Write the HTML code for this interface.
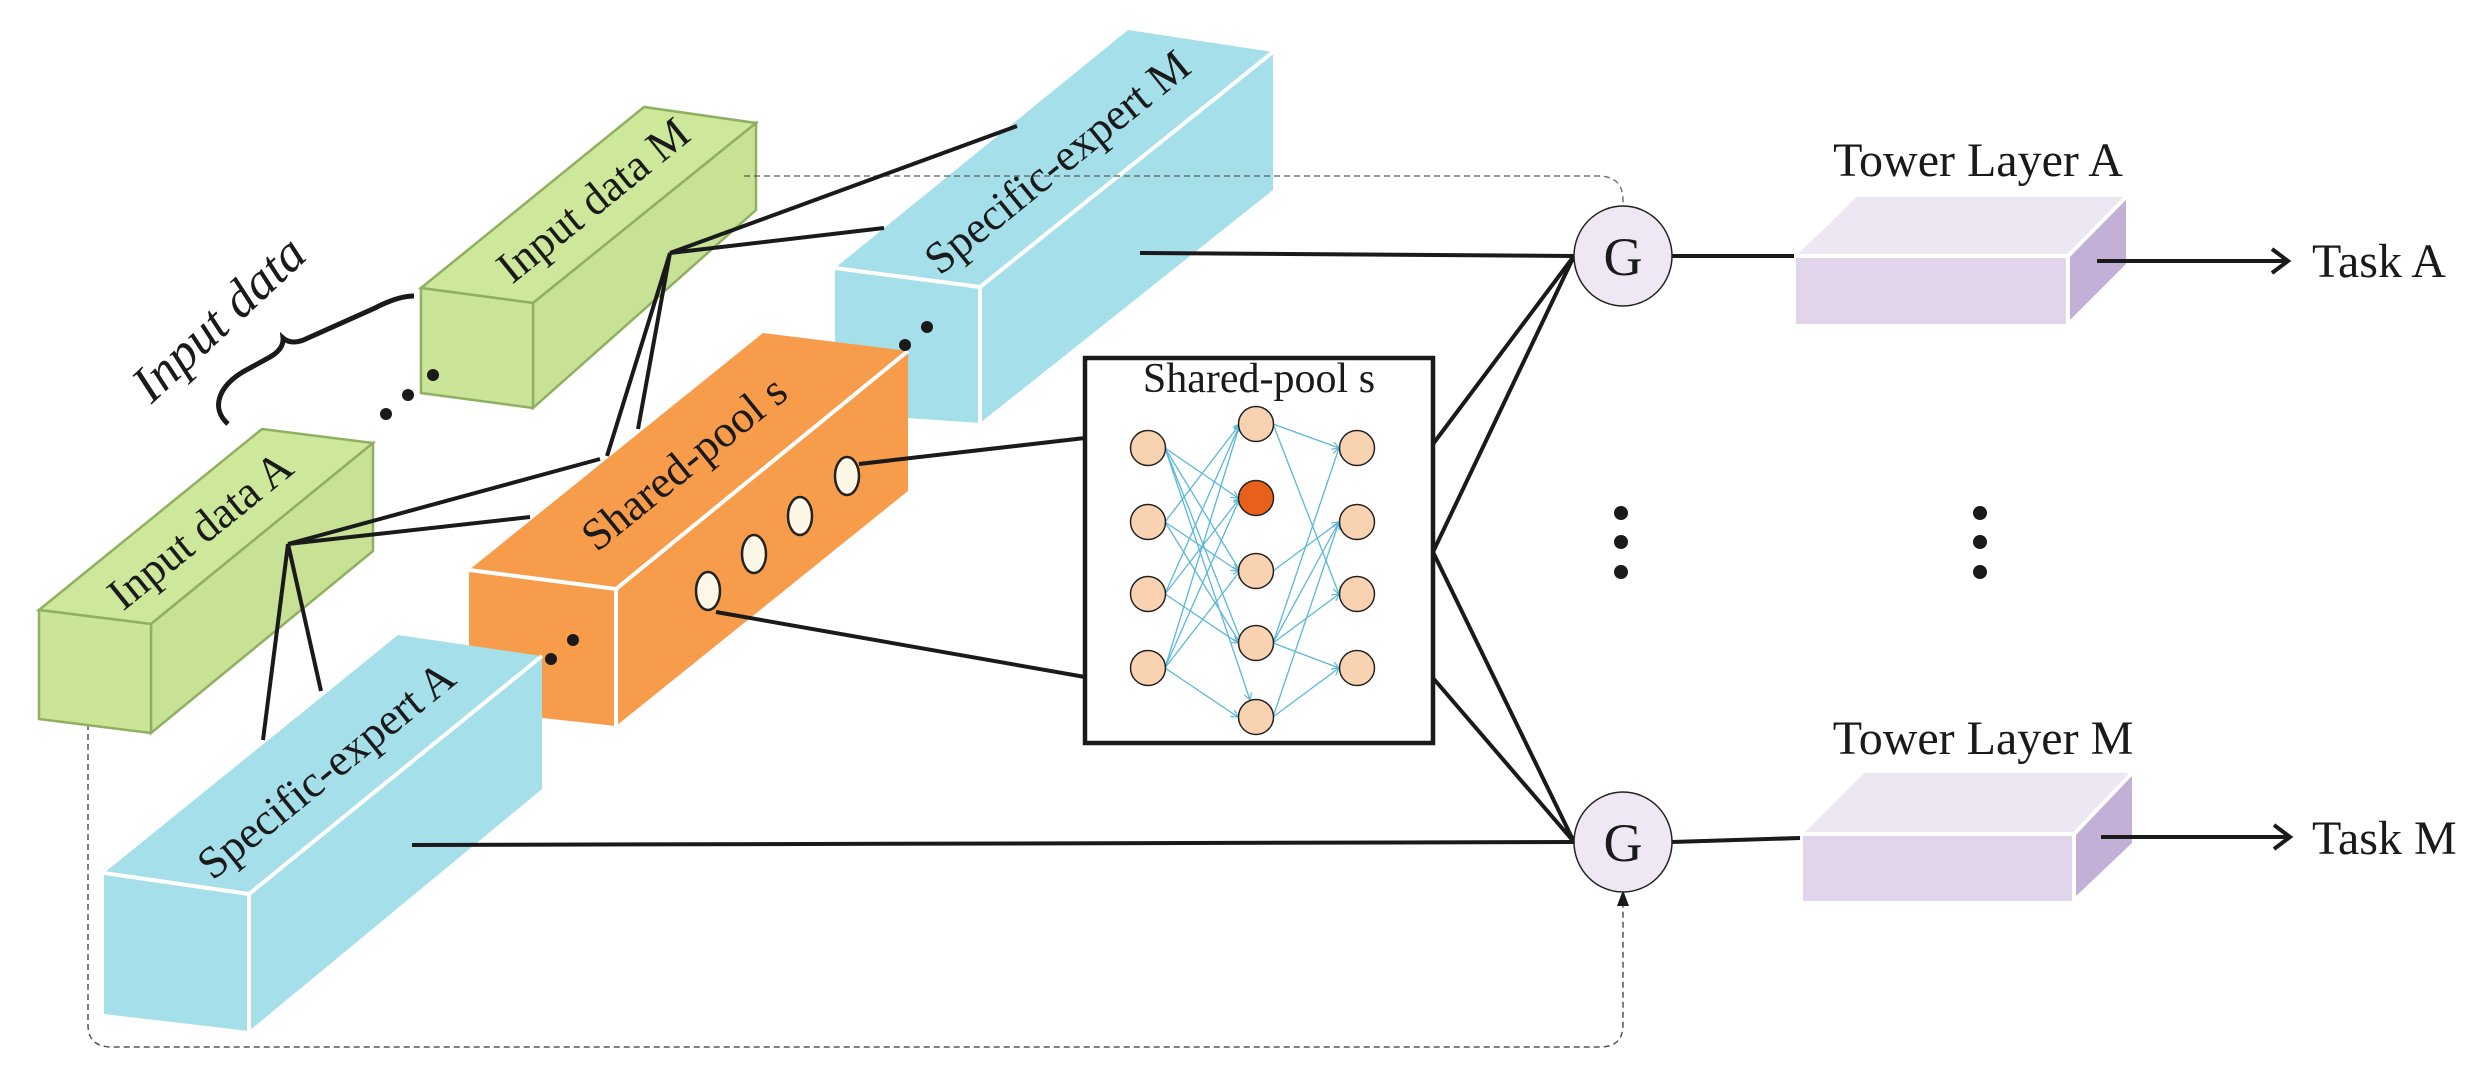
<!DOCTYPE html>
<html><head><meta charset="utf-8"><style>
html,body{margin:0;padding:0;background:#fff;}
svg{display:block;}
text{font-family:"Liberation Serif",serif;fill:#1a1a1a;}
</style></head><body>
<svg width="2487" height="1089" viewBox="0 0 2487 1089" xmlns="http://www.w3.org/2000/svg">
<defs>
<marker id="ba" markerWidth="8" markerHeight="8" refX="7" refY="4" orient="auto" markerUnits="userSpaceOnUse"><path d="M0,0 L7,4 L0,8" fill="none" stroke="#5bb8d8" stroke-width="1.2"/></marker>
</defs>

<!-- dashed feedback lines -->
<path d="M88,684 L88,1025 Q88,1047 112,1047 L1600,1047 Q1623,1047 1623,1025 L1623,900" fill="none" stroke="#555" stroke-width="1.5" stroke-dasharray="6,4"/>
<polygon points="1617,906 1629,906 1623,890" fill="#1a1a1a"/>

<!-- Input data M -->
<polygon points="421,288 644,107 756,123 533,303" fill="#cde79b" stroke="#8fb060" stroke-width="2.5"/>
<polygon points="533,303 756,123 756,210 533,408" fill="#c8e295" stroke="#8fb060" stroke-width="2.5"/>
<polygon points="421,288 533,303 533,408 421,393" fill="#cbe598" stroke="#8fb060" stroke-width="2.5"/>
<text x="593" y="200" font-size="45" text-anchor="middle" dominant-baseline="central" transform="rotate(-39 593 200)">Input data M</text>

<!-- Specific-expert M -->
<polygon points="835,268 1128,30 1273,52 980,287" fill="#a5dfe9"/>
<polygon points="980,287 1273,52 1273,190 980,423" fill="#a5dfe9"/>
<polygon points="835,268 980,287 980,423 835,413" fill="#a5dfe9"/>
<polyline points="835,268 980,287 1273,52" fill="none" stroke="#fff" stroke-width="4"/>
<line x1="980" y1="287" x2="980" y2="423" stroke="#fff" stroke-width="4"/>
<text x="1057" y="162" font-size="45" text-anchor="middle" dominant-baseline="central" transform="rotate(-39 1057 162)">Specific-expert M</text>
<path d="M744,176 L1598,176 Q1623,176 1623,200 L1623,207" fill="none" stroke="#555" stroke-width="1.5" stroke-dasharray="6,4" opacity="0.8"/>

<!-- Shared-pool orange -->
<polygon points="469,570 763,333 908,351 616,589" fill="#f79c4b"/>
<polygon points="616,589 908,351 908,491 616,726" fill="#f79c4b"/>
<polygon points="469,570 616,589 616,726 469,710" fill="#f79c4b"/>
<polyline points="469,570 616,589 908,351" fill="none" stroke="#fff" stroke-width="4"/>
<line x1="616" y1="589" x2="616" y2="726" stroke="#fff" stroke-width="4"/>
<text x="684" y="463" font-size="45" text-anchor="middle" dominant-baseline="central" transform="rotate(-39 684 463)">Shared-pool s</text>
<g fill="#fdf8e6" stroke="#222" stroke-width="2.5">
<ellipse cx="708" cy="591" rx="12" ry="19"/>
<ellipse cx="754" cy="554" rx="12" ry="19"/>
<ellipse cx="800" cy="516" rx="12" ry="19"/>
<ellipse cx="847" cy="476" rx="12" ry="19"/>
</g>

<!-- Input data A -->
<polygon points="39,610 262,429 373,443 151,624" fill="#cde79b" stroke="#8fb060" stroke-width="2.5"/>
<polygon points="151,624 373,443 373,551 151,733" fill="#c8e295" stroke="#8fb060" stroke-width="2.5"/>
<polygon points="39,610 151,624 151,733 39,719" fill="#cbe598" stroke="#8fb060" stroke-width="2.5"/>
<text x="200" y="530" font-size="45" text-anchor="middle" dominant-baseline="central" transform="rotate(-39 200 530)">Input data A</text>

<!-- Specific-expert A -->
<polygon points="104,873 398,635 542,656 249,894" fill="#a5dfe9"/>
<polygon points="249,894 542,656 542,789 249,1031" fill="#a5dfe9"/>
<polygon points="104,873 249,894 249,1031 104,1014" fill="#a5dfe9"/>
<polyline points="104,873 249,894 542,656" fill="none" stroke="#fff" stroke-width="4"/>
<line x1="249" y1="894" x2="249" y2="1031" stroke="#fff" stroke-width="4"/>
<text x="326" y="770" font-size="45" text-anchor="middle" dominant-baseline="central" transform="rotate(-39 326 770)">Specific-expert A</text>

<!-- dots -->
<g fill="#1a1a1a">
<circle cx="433" cy="375" r="6"/><circle cx="408" cy="395" r="6"/><circle cx="386" cy="414" r="6"/>
<circle cx="573" cy="640" r="6"/><circle cx="551" cy="659" r="6"/>
<circle cx="927" cy="327" r="6"/><circle cx="905" cy="345" r="6"/>
<circle cx="1621" cy="513" r="7"/><circle cx="1621" cy="542" r="7"/><circle cx="1621" cy="572" r="7"/>
<circle cx="1980" cy="513" r="7"/><circle cx="1980" cy="542" r="7"/><circle cx="1980" cy="572" r="7"/>
</g>

<!-- brace + Input data -->
<path d="M228,424 C210,408 218,384 250,368 L270,357 Q284,349 283,338 Q292,346 308,338 L375,308 Q398,296 414,296" fill="none" stroke="#1a1a1a" stroke-width="5"/>
<text x="219" y="319" font-size="52" font-style="italic" text-anchor="middle" dominant-baseline="central" transform="rotate(-43 219 319)">Input data</text>

<!-- black connectors -->
<g stroke="#1a1a1a" stroke-width="4" fill="none">
<line x1="670" y1="253" x2="1017" y2="126"/>
<line x1="670" y1="253" x2="884" y2="228"/>
<line x1="670" y1="253" x2="607" y2="456"/>
<line x1="670" y1="253" x2="638" y2="429"/>
<line x1="288" y1="544" x2="600" y2="459"/>
<line x1="288" y1="544" x2="530" y2="517"/>
<line x1="288" y1="544" x2="263" y2="740"/>
<line x1="288" y1="544" x2="321" y2="691"/>
<line x1="859" y1="464" x2="1085" y2="438"/>
<line x1="716" y1="612" x2="1085" y2="677"/>
<line x1="1140" y1="253" x2="1574" y2="256"/>
<line x1="412" y1="845" x2="1574" y2="842"/>
<line x1="1433" y1="444" x2="1574" y2="256"/>
<line x1="1433" y1="552" x2="1574" y2="256"/>
<line x1="1433" y1="552" x2="1574" y2="842"/>
<line x1="1433" y1="678" x2="1574" y2="842"/>
<line x1="1672" y1="256" x2="1794" y2="256"/>
<line x1="1672" y1="842" x2="1800" y2="838"/>
<line x1="2097" y1="261" x2="2288" y2="261"/>
<line x1="2101" y1="837" x2="2290" y2="837"/>
<polyline points="2272,249 2288,261 2272,273"/>
<polyline points="2274,825 2290,837 2274,849"/>
</g>

<!-- Shared pool box -->
<rect x="1085" y="358" width="348" height="385" fill="#fff" stroke="#1a1a1a" stroke-width="4.5"/>
<text x="1259" y="392" font-size="42" text-anchor="middle">Shared-pool s</text>
<g stroke="#5bb8d8" stroke-width="1.3" marker-end="url(#ba)">
<line x1="1165" y1="448" x2="1238" y2="498"/><line x1="1165" y1="448" x2="1240" y2="571"/><line x1="1165" y1="448" x2="1242" y2="643"/><line x1="1165" y1="448" x2="1250" y2="700"/>
<line x1="1165" y1="522" x2="1240" y2="424"/><line x1="1165" y1="522" x2="1238" y2="571"/><line x1="1165" y1="522" x2="1240" y2="643"/>
<line x1="1165" y1="594" x2="1240" y2="424"/><line x1="1165" y1="594" x2="1240" y2="498"/><line x1="1165" y1="594" x2="1238" y2="643"/>
<line x1="1165" y1="668" x2="1240" y2="424"/><line x1="1165" y1="668" x2="1240" y2="498"/><line x1="1165" y1="668" x2="1240" y2="571"/><line x1="1165" y1="668" x2="1238" y2="717"/>
<line x1="1273" y1="424" x2="1339" y2="448"/><line x1="1273" y1="424" x2="1339" y2="594"/>
<line x1="1273" y1="571" x2="1339" y2="522"/>
<line x1="1273" y1="643" x2="1339" y2="448"/><line x1="1273" y1="643" x2="1339" y2="522"/><line x1="1273" y1="643" x2="1339" y2="594"/><line x1="1273" y1="643" x2="1339" y2="668"/>
<line x1="1273" y1="717" x2="1339" y2="522"/><line x1="1273" y1="717" x2="1339" y2="668"/>
</g>
<g fill="#f9d3b1" stroke="#222" stroke-width="1.5">
<circle cx="1148" cy="448" r="17.5"/><circle cx="1148" cy="522" r="17.5"/><circle cx="1148" cy="594" r="17.5"/><circle cx="1148" cy="668" r="17.5"/>
<circle cx="1256" cy="424" r="17.5"/><circle cx="1256" cy="498" r="17.5" fill="#e8601c"/><circle cx="1256" cy="571" r="17.5"/><circle cx="1256" cy="643" r="17.5"/><circle cx="1256" cy="717" r="17.5"/>
<circle cx="1357" cy="448" r="17.5"/><circle cx="1357" cy="522" r="17.5"/><circle cx="1357" cy="594" r="17.5"/><circle cx="1357" cy="668" r="17.5"/>
</g>

<!-- Gates -->
<g fill="#efe8f4" stroke="#222" stroke-width="1.5">
<ellipse cx="1623" cy="256" rx="49" ry="50"/>
<ellipse cx="1623" cy="842" rx="49" ry="50"/>
</g>
<text x="1623" y="275" font-size="54" text-anchor="middle">G</text>
<text x="1623" y="861" font-size="54" text-anchor="middle">G</text>

<!-- Tower A -->
<polygon points="1796,256 1857,197 2126,197 2068,256" fill="#ede6f3"/>
<polygon points="2068,256 2126,197 2126,264 2068,322" fill="#c3b0d6"/>
<rect x="1796" y="256" width="272" height="68" fill="#e0d5ea"/>
<polyline points="1796,256 2068,256 2126,197" fill="none" stroke="#fff" stroke-width="4"/>
<line x1="2068" y1="256" x2="2068" y2="324" stroke="#fff" stroke-width="4"/>
<line x1="2097" y1="261" x2="2130" y2="261" stroke="#1a1a1a" stroke-width="4"/>
<text x="1978" y="176" font-size="48" text-anchor="middle">Tower Layer A</text>
<text x="2312" y="277" font-size="48">Task A</text>

<!-- Tower M -->
<polygon points="1803,834 1864,773 2132,773 2074,834" fill="#ede6f3"/>
<polygon points="2074,834 2132,773 2132,843 2074,898" fill="#c3b0d6"/>
<rect x="1803" y="834" width="271" height="67" fill="#e0d5ea"/>
<polyline points="1803,834 2074,834 2132,773" fill="none" stroke="#fff" stroke-width="4"/>
<line x1="2074" y1="834" x2="2074" y2="901" stroke="#fff" stroke-width="4"/>
<line x1="2101" y1="837" x2="2135" y2="837" stroke="#1a1a1a" stroke-width="4"/>
<text x="1983" y="754" font-size="48" text-anchor="middle">Tower Layer M</text>
<text x="2312" y="854" font-size="48">Task M</text>
</svg>
</body></html>
